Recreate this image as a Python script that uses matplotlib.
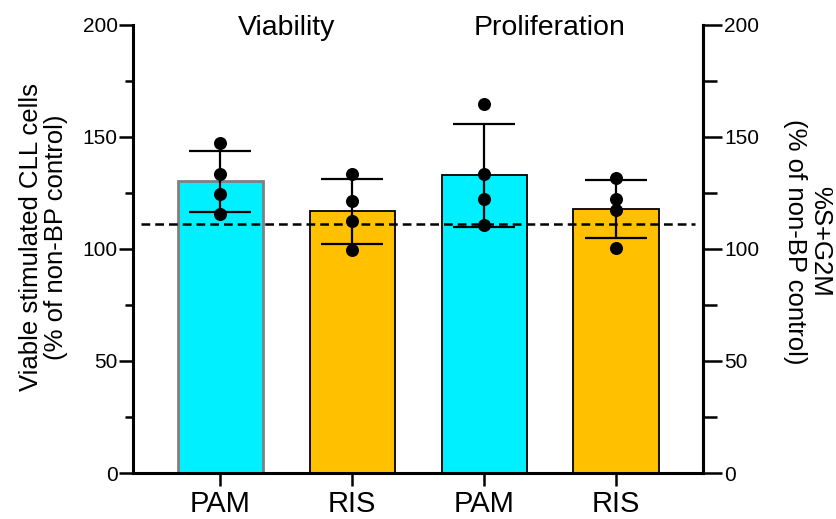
import matplotlib.pyplot as plt
import numpy as np
from matplotlib.ticker import MultipleLocator

plt.rcParams['font.family'] = ['Liberation Sans', 'DejaVu Sans']

# data
labels = ['PAM', 'RIS', 'PAM', 'RIS']
groups = ['Viability', 'Proliferation']
means = [130.3, 116.8, 132.8, 118.0]
sds = [13.6, 14.4, 23.0, 12.9]
points = [
    [147.5, 133.5, 124.6, 115.5],
    [133.5, 121.6, 112.6, 99.6],
    [164.6, 133.5, 122.5, 110.6],
    [131.5, 122.5, 117.4, 100.6],
]
control_line = 111.2

fills = ['#00F0FF', '#FFC000', '#00F0FF', '#FFC000']
edges = ['#808080', 'black', 'black', 'black']
edge_w = [2.0, 1.3, 1.3, 1.3]

fig = plt.figure(figsize=(8.37, 5.19), dpi=100)
ax = fig.add_axes([0.159, 0.0886, 0.681, 0.8634])

x = np.arange(len(labels))
ax.bar(x, means, width=0.645, color=fills, edgecolor=edges, linewidth=edge_w, zorder=2)
ax.errorbar(x, means, yerr=sds, fmt='none', ecolor='black', elinewidth=1.6,
            capsize=22, capthick=1.6, zorder=3)
for i, pts in enumerate(points):
    ax.scatter([x[i]] * len(pts), pts, s=70, color='black', zorder=4)

ax.plot([-0.6, 3.6], [control_line, control_line], color='black', lw=1.8,
        ls=(0, (3.5, 2)), zorder=5)

ax.set_xlim(-0.66, 3.66)
ax.set_ylim(0, 200)
ax.set_xticks(x)
ax.set_xticklabels(labels, fontsize=21)
ax.yaxis.set_major_locator(MultipleLocator(50))
ax.yaxis.set_minor_locator(MultipleLocator(25))
ax.tick_params(axis='y', which='major', labelsize=15, length=10, width=1.8, pad=1)
ax.tick_params(axis='y', which='minor', length=6, width=1.8)
ax.tick_params(axis='x', length=9, width=1.8, pad=3)

ax.spines['top'].set_visible(False)
for s in ['left', 'bottom', 'right']:
    ax.spines[s].set_linewidth(2.2)

ax2 = ax.twinx()
ax2.set_ylim(0, 200)
ax2.yaxis.set_major_locator(MultipleLocator(50))
ax2.yaxis.set_minor_locator(MultipleLocator(25))
ax2.tick_params(axis='y', which='major', labelsize=15, length=14, width=1.8, pad=1)
ax2.tick_params(axis='y', which='minor', length=10, width=1.8)
ax2.spines['top'].set_visible(False)
ax2.spines['right'].set_linewidth(2.2)

# axis titles placed in figure coords to match the reference
fig.text(0.052, 0.543, 'Viable stimulated CLL cells\n(% of non-BP control)',
         rotation=90, ha='center', va='center', fontsize=18.5, linespacing=1.05)
fig.text(0.965, 0.534, '%S+G2M\n(% of non-BP control)',
         rotation=270, ha='center', va='center', fontsize=18.5, linespacing=1.05)

ax.text(0.5, 195.5, groups[0], ha='center', va='baseline', fontsize=20.5)
ax.text(2.5, 195.5, groups[1], ha='center', va='baseline', fontsize=20.5)

fig.savefig('out.png', dpi=100)
